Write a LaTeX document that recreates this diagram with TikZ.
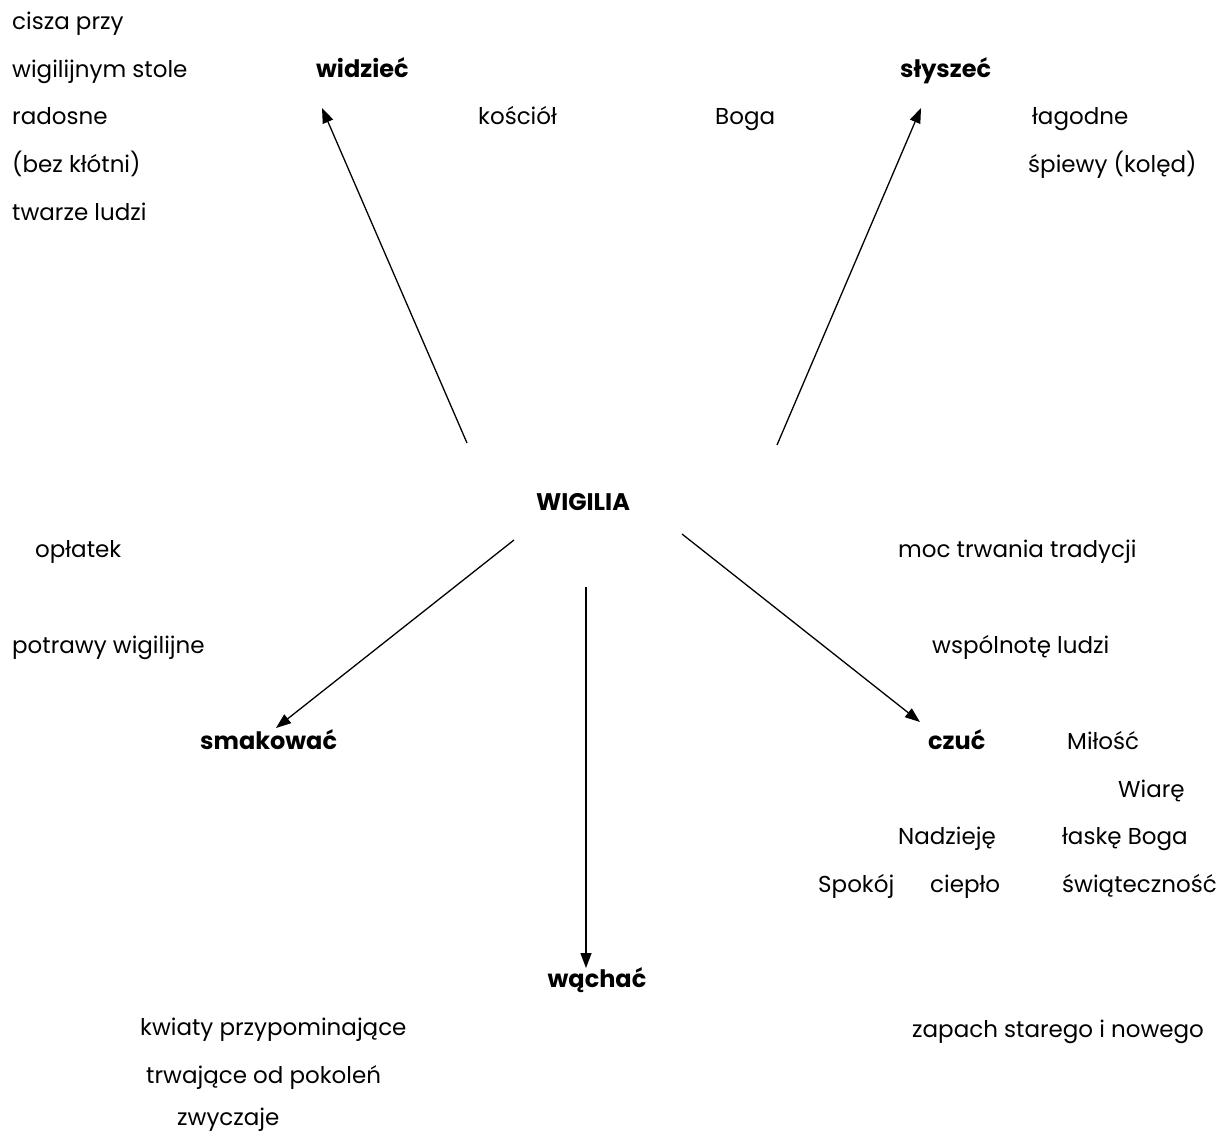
\documentclass[tikz,border=0pt]{standalone}
\usepackage{fontspec}
\setmainfont{Poppins}
\usetikzlibrary{arrows.meta}
\begin{document}
\begin{tikzpicture}[x=1pt,y=-1pt,
  txt/.style={anchor=base west,inner sep=0pt,font=\fontsize{23}{26}\selectfont},
  key/.style={txt,font=\fontsize{24}{27}\selectfont\bfseries},
  arr/.style={line width=1.3pt,-{Triangle[length=15pt,width=11pt]}}]
\path[use as bounding box,fill=white] (0,0) rectangle (1220,1135);
\node[txt] (t1) at (12,29) {cisza przy};
\node[txt] (t2) at (12,77) {wigilijnym stole};
\node[txt] (t3) at (12,124) {radosne};
\node[txt] (t4) at (12,172) {(bez kłótni)};
\node[txt] (t5) at (12,220) {twarze ludzi};
\node[key] (widz) at (316,77) {widzieć};
\node[txt] (kos) at (478,124) {kościół};
\node[txt] (boga) at (715,124) {Boga};
\node[key] (slys) at (900,77) {słyszeć};
\node[txt] (lag) at (1032,124) {łagodne};
\node[txt] (spi) at (1028,172) {śpiewy (kolęd)};
\node[key,anchor=base] (wig) at (583,510) {WIGILIA};
\node[txt] (opl) at (35,557) {opłatek};
\node[txt] (moc) at (898,557) {moc trwania tradycji};
\node[txt] (pot) at (12,653) {potrawy wigilijne};
\node[txt] (wsp) at (932,653) {wspólnotę ludzi};
\node[key] (smak) at (200,749) {smakować};
\node[key] (czuc) at (928,749) {czuć};
\node[txt] (mil) at (1067,749) {Miłość};
\node[txt] (wia) at (1118,797) {Wiarę};
\node[txt] (nad) at (898,844) {Nadzieję};
\node[txt] (las) at (1062,844) {łaskę Boga};
\node[txt] (spo) at (818,892) {Spokój};
\node[txt] (cie) at (930,892) {ciepło};
\node[txt] (swi) at (1062,892) {świąteczność};
\node[key,anchor=base] (wach) at (597,987) {wąchać};
\node[txt] (zap) at (912,1037) {zapach starego i nowego};
\node[txt] (kwi) at (140,1035) {kwiaty przypominające};
\node[txt] (trw) at (146,1083) {trwające od pokoleń};
\node[txt] (zwy) at (177,1125) {zwyczaje};
\coordinate (a1s) at (467,443); \coordinate (a1e) at (322,108);
\coordinate (a2s) at (777,445); \coordinate (a2e) at (921,108);
\coordinate (a3s) at (514,540); \coordinate (a3e) at (276,728);
\coordinate (a4s) at (682,534); \coordinate (a4e) at (920,722);
\coordinate (a5s) at (586,587); \coordinate (a5e) at (586,968);
\draw[arr] (a1s) -- (a1e);
\draw[arr] (a2s) -- (a2e);
\draw[arr] (a3s) -- (a3e);
\draw[arr] (a4s) -- (a4e);
\draw[arr] (a5s) -- (a5e);
\end{tikzpicture}
\end{document}
